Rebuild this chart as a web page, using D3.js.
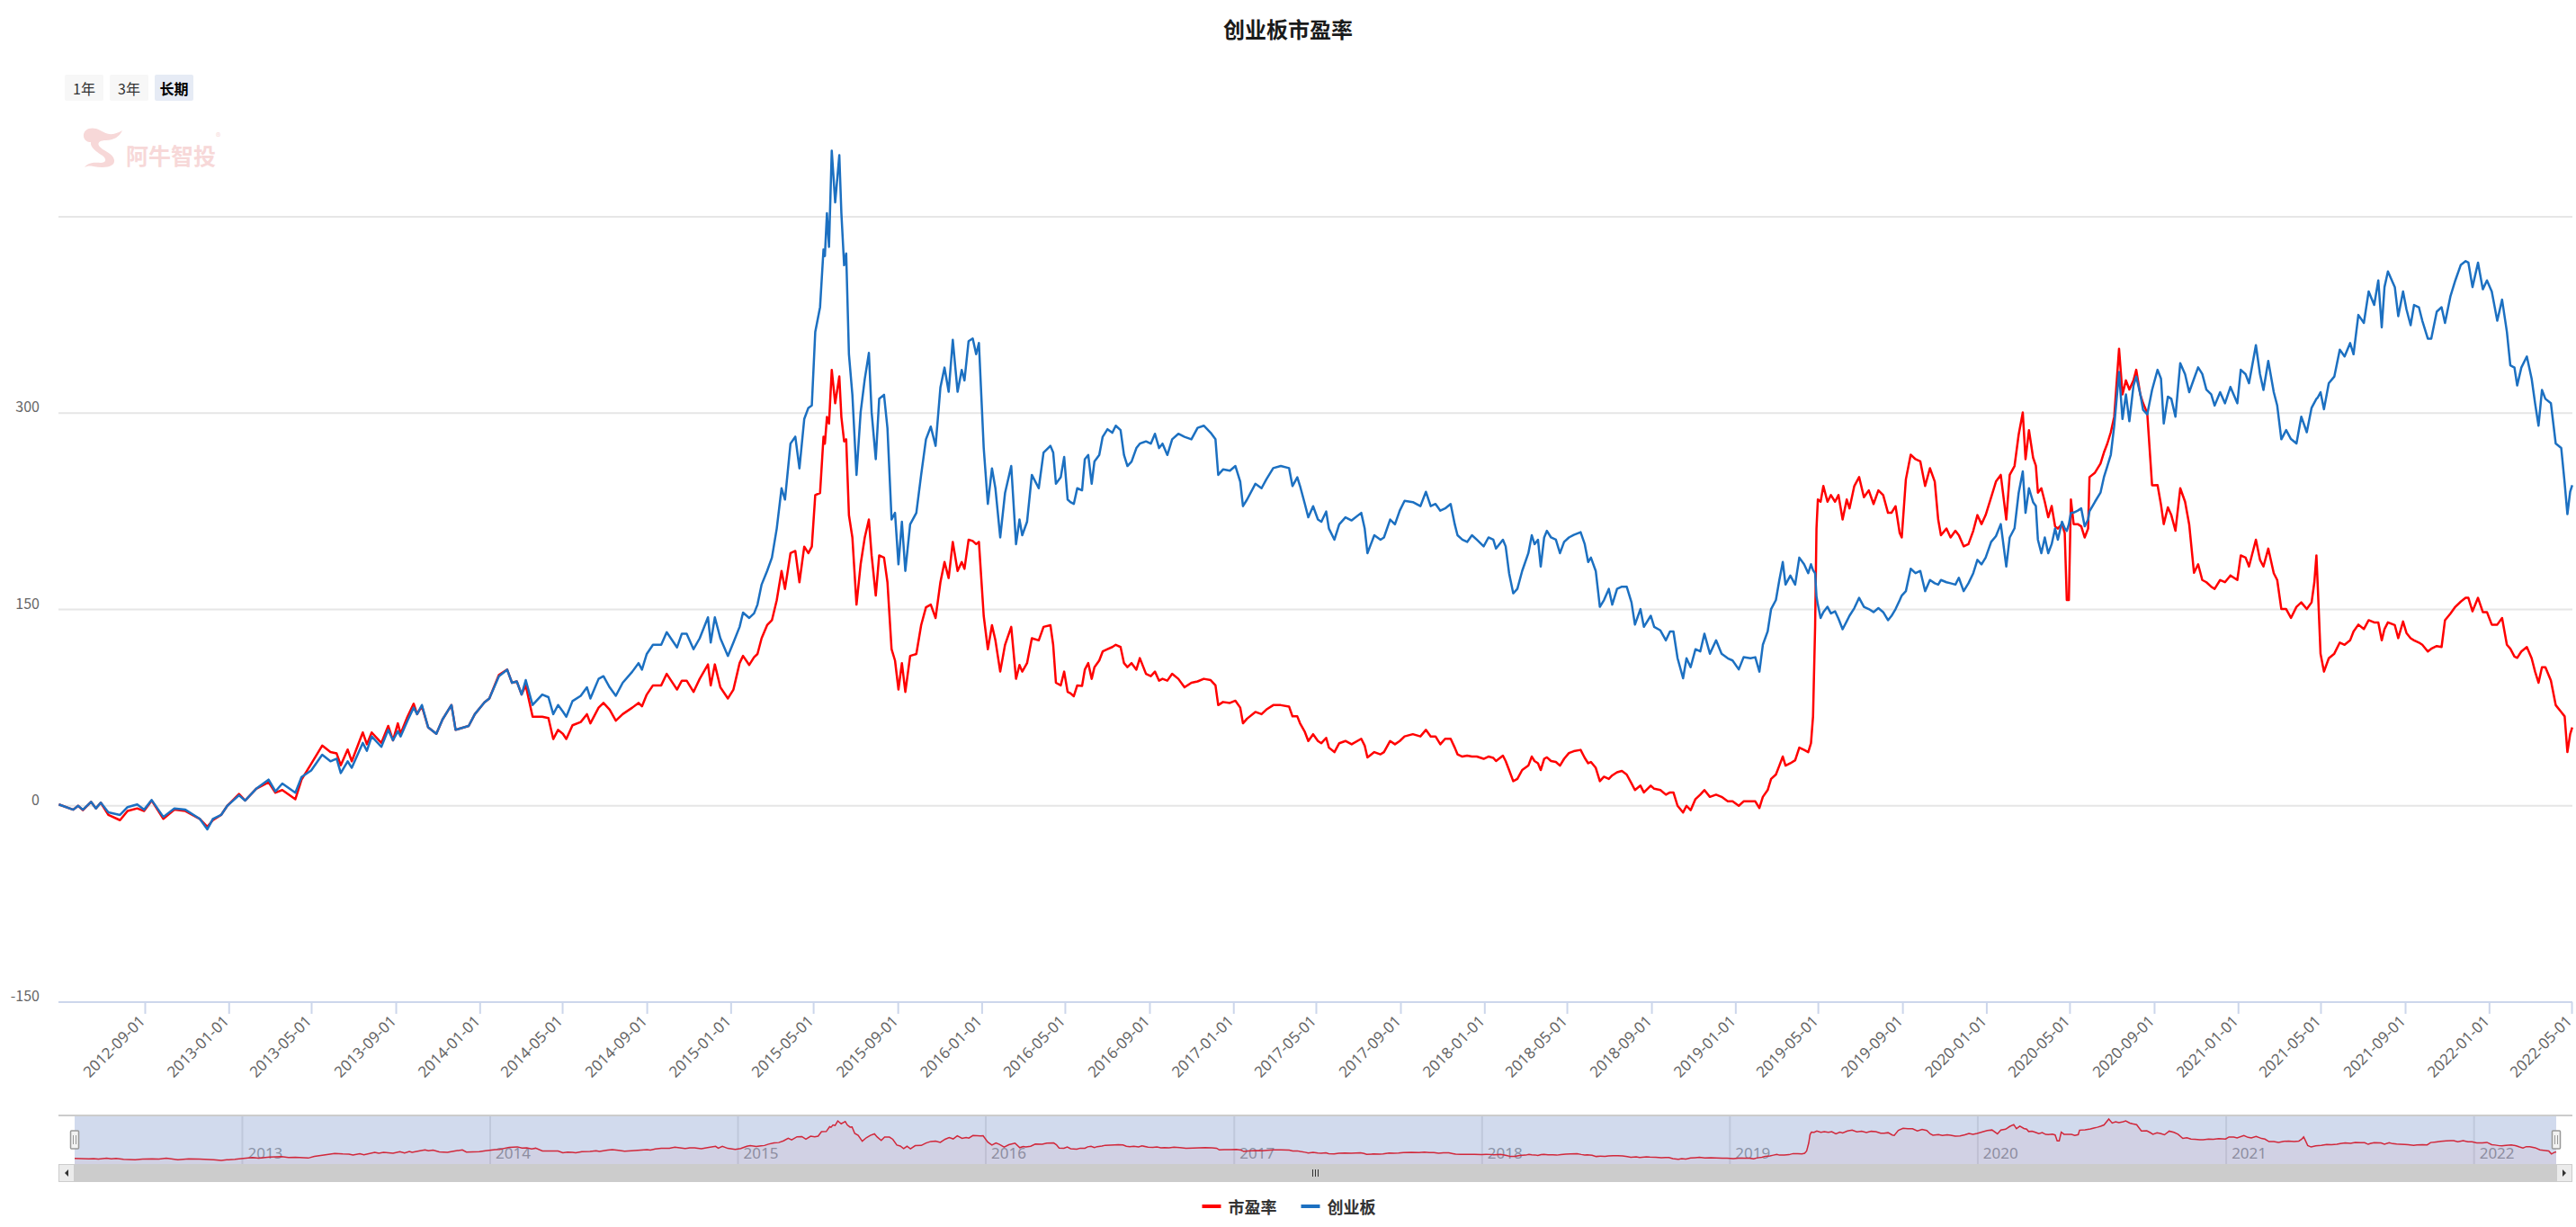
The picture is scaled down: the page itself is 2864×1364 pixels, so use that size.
<!DOCTYPE html>
<html><head><meta charset="utf-8">
<script src="https://cdn.jsdelivr.net/npm/d3@7"></script>
<style>
html,body{margin:0;padding:0;background:#fff;}
svg{display:block;}
text{font-family:"Noto Sans CJK SC","Noto Sans",sans-serif;}
</style></head><body>
<svg id="chart" width="2864" height="1364"></svg>
<script>
const chartTitle = "创业板市盈率";
const seriesNames = ["市盈率", "创业板"];
const seriesColors = ["#ff0000", "#1c70c1"];
const rangeButtons = ["1年", "3年", "长期"];
const yTicks = [-150, 0, 150, 300, 450];
const yTickLabels = ["-150", "0", "150", "300", ""];
const xTickLabels = ["2012-09-01","2013-01-01","2013-05-01","2013-09-01","2014-01-01","2014-05-01","2014-09-01","2015-01-01","2015-05-01","2015-09-01","2016-01-01","2016-05-01","2016-09-01","2017-01-01","2017-05-01","2017-09-01","2018-01-01","2018-05-01","2018-09-01","2019-01-01","2019-05-01","2019-09-01","2020-01-01","2020-05-01","2020-09-01","2021-01-01","2021-05-01","2021-09-01","2022-01-01","2022-05-01"];
const navYearLabels = ["2013","2014","2015","2016","2017","2018","2019","2020","2021","2022"];

const dates = [
// 2012
"2012-04-29","2012-05-20","2012-05-27","2012-06-03","2012-06-15","2012-06-22","2012-06-29","2012-07-10","2012-07-27","2012-08-07","2012-08-21","2012-08-31","2012-09-11","2012-09-28","2012-10-14","2012-10-30","2012-11-20","2012-12-01","2012-12-09","2012-12-21","2012-12-30",
// 2013
"2013-01-16","2013-01-25","2013-02-10","2013-02-28","2013-03-10","2013-03-20","2013-04-08","2013-04-17","2013-05-01","2013-05-17","2013-05-29","2013-06-07","2013-06-13","2013-06-23","2013-06-29","2013-07-15","2013-07-21","2013-07-28","2013-08-11","2013-08-21","2013-08-28","2013-09-04","2013-09-08","2013-09-18","2013-09-27","2013-10-02","2013-10-09","2013-10-18","2013-10-30","2013-11-08","2013-11-21","2013-11-27","2013-12-16","2013-12-25",
// 2014
"2014-01-08","2014-01-15","2014-01-29","2014-02-10","2014-02-17","2014-02-24","2014-03-03","2014-03-09","2014-03-19","2014-04-02","2014-04-11","2014-04-18","2014-04-25","2014-05-02","2014-05-07","2014-05-16","2014-05-28","2014-06-06","2014-06-11","2014-06-23","2014-06-30","2014-07-09","2014-07-18","2014-07-28","2014-08-11","2014-08-20","2014-08-25","2014-09-01","2014-09-10","2014-09-22","2014-09-30","2014-10-15","2014-10-22","2014-10-29","2014-11-08","2014-11-17","2014-11-29","2014-12-03","2014-12-09","2014-12-17","2014-12-28",
// 2015
"2015-01-05","2015-01-14","2015-01-19","2015-01-28","2015-02-04","2015-02-09","2015-02-15","2015-02-23","2015-03-02","2015-03-09","2015-03-16","2015-03-21","2015-03-29","2015-04-05","2015-04-11","2015-04-18","2015-04-24","2015-04-29","2015-05-04","2015-05-11","2015-05-16","2015-05-18","2015-05-21","2015-05-24","2015-05-28","2015-06-02","2015-06-08","2015-06-11","2015-06-15","2015-06-18","2015-06-22","2015-06-27","2015-07-03","2015-07-09","2015-07-15","2015-07-21","2015-07-25","2015-07-31","2015-08-05","2015-08-12","2015-08-17","2015-08-23","2015-08-28","2015-09-02","2015-09-07","2015-09-12","2015-09-19","2015-09-28","2015-10-05","2015-10-12","2015-10-19","2015-10-26","2015-11-02","2015-11-08","2015-11-14","2015-11-20","2015-11-27","2015-12-03","2015-12-07","2015-12-13","2015-12-19","2015-12-24","2015-12-28",
// 2016
"2016-01-04","2016-01-10","2016-01-16","2016-01-21","2016-01-28","2016-02-04","2016-02-13","2016-02-20","2016-02-25","2016-02-29","2016-03-07","2016-03-14","2016-03-24","2016-03-31","2016-04-10","2016-04-14","2016-04-18","2016-04-25","2016-04-30","2016-05-05","2016-05-09","2016-05-14","2016-05-19","2016-05-26","2016-05-30","2016-06-04","2016-06-09","2016-06-13","2016-06-20","2016-06-25","2016-07-02","2016-07-09","2016-07-14","2016-07-21","2016-07-26","2016-07-31","2016-08-06","2016-08-13","2016-08-18","2016-08-27","2016-09-03","2016-09-09","2016-09-15","2016-09-20","2016-09-27","2016-10-04","2016-10-13","2016-10-22","2016-11-01","2016-11-10","2016-11-19","2016-11-29","2016-12-06","2016-12-10","2016-12-17","2016-12-27",
// 2017
"2017-01-04","2017-01-11","2017-01-15","2017-01-21","2017-02-02","2017-02-11","2017-02-18","2017-02-28","2017-03-11","2017-03-23","2017-03-28","2017-04-04","2017-04-08","2017-04-15","2017-04-20","2017-04-27","2017-05-04","2017-05-09","2017-05-16","2017-05-20","2017-05-28","2017-06-04","2017-06-13","2017-06-22","2017-07-06","2017-07-11","2017-07-15","2017-07-25","2017-08-03","2017-08-08","2017-08-17","2017-08-24","2017-08-31","2017-09-07","2017-09-19","2017-09-30","2017-10-08","2017-10-15","2017-10-22","2017-10-29","2017-11-05","2017-11-13","2017-11-19","2017-11-23","2017-11-30","2017-12-07","2017-12-14","2017-12-21","2017-12-31",
// 2018
"2018-01-07","2018-01-14","2018-01-18","2018-01-28","2018-02-01","2018-02-06","2018-02-12","2018-02-18","2018-02-25","2018-03-06","2018-03-11","2018-03-15","2018-03-20","2018-03-24","2018-03-29","2018-04-02","2018-04-08","2018-04-15","2018-04-21","2018-04-27","2018-05-04","2018-05-11","2018-05-21","2018-05-27","2018-06-01","2018-06-05","2018-06-12","2018-06-18","2018-06-24","2018-07-01","2018-07-06","2018-07-13","2018-07-20","2018-07-27","2018-08-03","2018-08-08","2018-08-16","2018-08-21","2018-08-31","2018-09-05","2018-09-14","2018-09-22","2018-09-28","2018-10-03","2018-10-09","2018-10-17","2018-10-22","2018-10-28","2018-11-04","2018-11-11","2018-11-17","2018-11-25","2018-12-04","2018-12-12","2018-12-21","2018-12-28",
// 2019
"2019-01-06","2019-01-13","2019-01-23","2019-01-30","2019-02-05","2019-02-10","2019-02-17","2019-02-22","2019-03-01","2019-03-06","2019-03-11","2019-03-15","2019-03-22","2019-03-29","2019-04-04","2019-04-11","2019-04-17","2019-04-21","2019-04-24","2019-04-27","2019-04-29","2019-05-01","2019-05-05","2019-05-09","2019-05-15","2019-05-20","2019-05-26","2019-05-31","2019-06-06","2019-06-12","2019-06-16","2019-06-23","2019-06-30","2019-07-07","2019-07-14","2019-07-21","2019-07-28","2019-08-04","2019-08-11","2019-08-16","2019-08-22","2019-08-28","2019-08-31","2019-09-06","2019-09-13","2019-09-20","2019-09-27","2019-10-04","2019-10-11","2019-10-18","2019-10-23","2019-10-27","2019-11-04","2019-11-10","2019-11-17","2019-11-22","2019-11-29","2019-12-06","2019-12-13","2019-12-19","2019-12-25","2019-12-31",
// 2020
"2020-01-08","2020-01-15","2020-01-22","2020-01-30","2020-02-04","2020-02-11","2020-02-17","2020-02-23","2020-02-27","2020-03-03","2020-03-09","2020-03-13","2020-03-16","2020-03-21","2020-03-26","2020-03-31","2020-04-05","2020-04-10","2020-04-14","2020-04-20","2020-04-24","2020-04-27","2020-04-30","2020-05-03","2020-05-07","2020-05-13","2020-05-18","2020-05-23","2020-05-28","2020-05-30","2020-06-07","2020-06-15","2020-06-20","2020-06-25","2020-06-30","2020-07-05","2020-07-12","2020-07-17","2020-07-22","2020-07-27","2020-08-02","2020-08-06","2020-08-12","2020-08-16","2020-08-22","2020-08-29","2020-09-06","2020-09-11","2020-09-15","2020-09-21","2020-09-26","2020-10-02","2020-10-09","2020-10-16","2020-10-22","2020-10-29","2020-11-04","2020-11-10","2020-11-16","2020-11-23","2020-11-28","2020-12-06","2020-12-13","2020-12-21","2020-12-31",
// 2021
"2021-01-05","2021-01-12","2021-01-17","2021-01-27","2021-02-02","2021-02-07","2021-02-14","2021-02-22","2021-02-27","2021-03-05","2021-03-12","2021-03-19","2021-03-27","2021-04-03","2021-04-11","2021-04-18","2021-04-22","2021-04-25","2021-04-27","2021-05-01","2021-05-06","2021-05-13","2021-05-21","2021-05-29","2021-06-05","2021-06-13","2021-06-18","2021-06-25","2021-07-03","2021-07-10","2021-07-18","2021-07-24","2021-07-29","2021-08-02","2021-08-07","2021-08-17","2021-08-22","2021-08-29","2021-09-03","2021-09-09","2021-09-14","2021-09-21","2021-09-26","2021-10-04","2021-10-09","2021-10-17","2021-10-24","2021-10-29","2021-11-06","2021-11-13","2021-11-21","2021-11-28","2021-12-02","2021-12-08","2021-12-16","2021-12-23","2021-12-29",
// 2022
"2022-01-05","2022-01-13","2022-01-20","2022-01-27","2022-02-01","2022-02-07","2022-02-11","2022-02-17","2022-02-25","2022-03-04","2022-03-09","2022-03-14","2022-03-19","2022-03-24","2022-04-01","2022-04-08","2022-04-16","2022-04-21","2022-04-25","2022-04-29","2022-05-02"
];

// 市盈率 (red)
const peRatio = [
1,-3,0,-3.4,3,-2,2.4,-7,-11,-4,-2,-4,4,-10,-3,-4,-10,-16,-11,-7,0,
9,4,13,18,10,12,5,20,32,46,41,40,31,43,34,56,47,56,48,61,50,63,55,68,78,70,76,60,55,66,77,58,61,70,
79,82,100,104,94,95,85,92,68,68,67,51,58,55,51,61.5,64,70,63,75,78.6,73.5,65,70,75,78.6,76,85,92,92,100.8,88.8,95.6,95.6,87,97,108,92,108,90.5,82,
88.8,109,114.5,107.6,113.5,116,128,138,141.8,157,179.4,165.7,193,194.7,170.8,198,193,198,237.4,239,281.9,276.7,297,292,333,307.5,328,297,278.4,280,222,205,153.7,184.5,205,218.7,191.3,160.6,191.3,189.6,170.8,119.6,111,88.8,109,87,114.5,116,138,151.6,153.7,143.5,170.8,186.2,174,201.6,179.4,186.2,181,203.3,202.3,199.9,201.6,
145,119.6,138,126.4,102.5,123,136.7,97,107.6,102.5,109,128,126.4,136.7,138,123,94,92,102.5,87,86,83.7,92,91.6,104,109,97,105.9,111,117.9,119.6,121.3,123,121.3,109,105.9,109,104,112.8,100.8,99,102.5,95.6,97,95.6,100.8,97,90.5,94,95,97,96,92,76.9,79.3,78.6,
80.3,75,63,66.6,71.7,70,73.5,76.9,76.9,75.8,68.3,68.3,63,56.4,49.5,54.7,49.5,47.8,51.9,44.4,41,47.8,49.5,47,51.2,46,37,41,39.3,41,49.5,47,49.5,53,54.7,53,58,53,53,47,51.2,51.2,44.4,39.3,37.6,38.3,37.6,37.6,35.9,
37.6,36.6,34.2,38.3,34.2,27.3,18.8,20.5,27.3,30.7,37.6,34.2,32.5,27.3,35.9,37,34.2,33.5,30.7,35.9,40.3,41.7,42.7,36.6,32.5,33.5,29,18.8,22.2,20.5,23.2,25.6,26.6,23.9,17.1,12,15.4,10.2,15.4,13,12,8.5,10.2,10.2,0,-5.1,0,-3.4,5.1,8.5,12,6.8,8.5,6.8,3.4,3.4,
0,3.4,3.4,3.4,-1.7,6.8,12,20.5,23.9,30.7,37.6,30.7,32.5,34.8,44.4,42.7,41,47.8,68.3,136.7,211.8,234,232.3,244.3,232.3,237.4,232.3,237.4,218.7,234,227.2,244.3,251.1,235.7,241,230.6,241,237.4,223.8,223.8,228.9,208.4,205,249.4,268.2,264.8,263.1,244.3,257.9,247.7,218.7,206.7,211.8,205,210.1,206.7,198.2,199.9,210.1,222.1,215.2,222.1,
235.7,247.7,252.8,218.7,252.8,259.6,283.5,300.5,264.8,287,266,259.9,239.2,242.6,232.3,220.4,229,213.5,211.8,215.2,208.4,157.2,157.2,234,215.2,215.2,213.5,205,211.8,251.1,254.5,261.4,269.9,276.8,285.4,297.3,349.2,314.3,325,318,325,333.1,314,307.5,300,244.9,245,230,215.2,228,222.1,210.1,242.6,232.3,215,178,184.5,172.5,170.8,167.4,165.7,172.5,170.8,176,172.5,
191.3,189.6,182.8,203.3,187.9,182.8,196.5,177.7,172.5,150.3,150.3,143.5,152,155.4,150.3,155.4,170.8,191.3,167.4,116.2,102.5,112.7,116.2,124.7,123,126.4,133.2,138.4,135,141.8,140.1,140,126.4,135,140.1,138,128.1,140.8,132,128,126.4,124.7,123,117.9,120,122,121.3,141.8,146.9,152,156,158.9,158.9,148.6,158.9,148,148,
138.4,138.4,143.5,123,120,114,113,117.9,121.3,112.7,102.5,94,105.9,105.9,95.7,76.9,71.7,68.3,41,54.7,59.8
];

// 创业板 (blue)
const gemIndex = [
1,-3,0,-3,3,-2,2.4,-5,-7,-1,1,-3,4.4,-8.5,-2,-3,-10,-18,-10,-7,0,
8,4,13,20,11,17,10,22,27,39,34,36,25,34,29,48,42,53,45,58,50,57,53,65,75,70,77,60,55,66,77,58,61,70,
79,82,99,104,94,95,85,96,77,85,83,70,77,72,68,80,84,90.5,82,97,99,90.5,84,94,102.5,109,104,116,123,123,132.6,121,131.5,131.5,119.6,128,144,124.7,144,128,114.5,
124.7,136.7,147.6,143.5,147,153.7,169,179.4,189.6,211.8,242.6,234,276.7,282,257.8,295.5,304,305.8,362,381,425,420,452.7,427,500.5,461,497,452.7,413,422,345,314,252.8,300.6,326,346,300.6,264.8,311,314,288.6,218.7,223.8,184.5,217,179.4,215,223.8,252.8,280,289.7,275,319.6,334.8,316.3,356,316.3,333,325,355,357,345,353.6,
273.3,230.6,257.8,242.6,205,239,259.6,199.9,218.7,206.7,217,252.8,242.6,269.9,275,270,246,251,266.5,234,232,230.6,242.6,241,264.8,268,246,263,268,281.9,287.7,285,290.4,287,268,259.6,263,273.3,276.7,278.4,276.7,284.2,273.3,276.7,268,280,284.2,281.9,280,288.7,290.4,285,280,252.8,257,256,
259.6,247.7,228.9,234,246,242.6,249.4,258,259.6,258,244.3,251,244.3,230.6,220.4,228.9,218.7,217,224.8,211.8,203.3,215,220.4,218,223.8,211.8,193,206.7,203.3,205,218.7,215,225.5,233,232,228.9,239.9,228.9,230.6,225.5,227.2,230.6,215,206.7,203.3,201.6,206.7,203.3,198.2,
205,203.3,196.5,203.3,198.2,177.7,162.3,165.7,179.4,193,206.7,199.9,203.3,182.8,205,210.1,205,203.3,193,201.6,205,207,209,199.9,186.2,189.6,179.4,152,157.2,165.7,153.7,165.7,167.4,167.4,155.4,138.4,150.3,136.7,145.2,136.7,134,126.4,133.2,133.2,112.7,97.4,112.7,105.9,119.6,117.9,131.5,116.2,126.4,116.2,112.7,111,
104.2,113.5,112.7,113.5,102.5,123,133.2,150.3,157.2,172.5,186.2,169,175.9,169,189.6,184.5,177.7,184.5,180,177.7,160,153.7,143.5,148,152,147,148.6,143,134.9,141,145.2,151,158.9,152,150.3,148,151,148,141.8,145,150.3,157,160.6,164,181.1,177.7,179.4,164,172.5,170,169,172.5,170.8,170,169,174.2,164,170,177.7,187.9,184.5,189.6,
201.6,206,215.2,182.8,205,212,239,255.5,223.8,242.6,232,229,203.3,193,205,193,199.9,211.8,203.3,217,212,210,215,223.8,224,225.5,227.2,213.5,218.7,225,232.3,239.2,251.1,259.6,268.2,290.4,331.4,295.5,314.3,293.8,321.1,327.9,314.3,302.4,299,317.7,333.1,326.3,292.1,312.6,310.9,297.3,338.2,329.7,316,326.3,335,330,318,314.3,305.8,316,307.5,320,307.5,
333.1,329.7,322.8,351.9,329.7,317.7,339.9,316,305.8,280,287,280.2,276.8,297.3,285.4,304.1,308,310.9,312,316,303,322.8,327.9,348.5,343.3,353.5,345,375,368.9,393,382.6,401.4,365.5,396.3,408.3,396.3,374.1,392.9,379.2,367.2,382.6,380.9,370.6,356.9,356.9,377.5,380.9,368.9,389.5,401.4,413.3,416.1,415,396.3,415,394.6,401.4,
392.9,370.6,386.7,362.1,336.5,334.8,321.1,334.8,343.3,326.3,307.5,290.4,317.7,310.9,307.5,276.8,273.4,246.7,222.8,239.9,245
];

// ---------- drawing ----------
const parseDate = d3.timeParse("%Y-%m-%d");
const svg = d3.select("#chart");
const plotL = 65, plotR = 2860, axisY = 1114;

const rows = dates.map((d, i) => ({ date: parseDate(d), pe: peRatio[i], gem: gemIndex[i] }));
const x = d3.scaleTime().domain(d3.extent(rows, r => r.date)).range([65.4, 2859.8]);
const y = d3.scaleLinear().domain([-150, 450]).range([1114, 241]);

// title
svg.append("text").attr("x", 1432).attr("y", 31)
  .attr("text-anchor", "middle").attr("dominant-baseline", "central")
  .style("font-size", "24px").style("font-weight", "bold").attr("fill", "#1a1a1a")
  .text(chartTitle);

// range buttons
const btn = svg.append("g");
rangeButtons.forEach((b, i) => {
  const sel = i === rangeButtons.length - 1;
  const bx = 72 + i * 50;
  btn.append("rect").attr("x", bx).attr("y", 83).attr("width", 43).attr("height", 29)
    .attr("rx", 2).attr("fill", sel ? "#e6ebf5" : "#f7f7f7");
  btn.append("text").attr("x", bx + 21.5).attr("y", 97.5)
    .attr("text-anchor", "middle").attr("dominant-baseline", "central")
    .style("font-size", "16px").style("font-weight", sel ? "bold" : "normal")
    .attr("fill", sel ? "#000" : "#333").text(b);
});

// watermark logo
const logo = svg.append("g").attr("fill", "#f7d8d8");
logo.append("path").attr("d",
  "M93,152 C92,144 100,141 107,143 C113,145 118,150 126,149 C131,148 134,146 136,145 C133,152 126,156 118,156 C112,156 108,158 110,162 C114,168 126,170 127,178 C128,186 116,187 104,185 C99,184 96,185 94,186 C97,181 104,180 112,181 C118,181 119,177 114,173 C106,168 100,163 101,158 C97,158 94,156 93,152 Z");
logo.append("text").attr("x", 140).attr("y", 183)
  .style("font-size", "25px").style("font-weight", "bold").text("阿牛智投");
logo.append("text").attr("x", 240).attr("y", 156).style("font-size", "11px").text("®");

// gridlines
const gridTicks = yTicks.filter(t => t !== yTicks[0]);
svg.append("g").selectAll("line").data(gridTicks).join("line")
  .attr("x1", plotL).attr("x2", plotR)
  .attr("y1", d => y(d)).attr("y2", d => y(d))
  .attr("stroke", "#e6e6e6").attr("stroke-width", 2);

// y labels
svg.append("g").selectAll("text").data(yTicks).join("text")
  .attr("x", 44).attr("y", d => y(d) - 8)
  .attr("text-anchor", "end").attr("dominant-baseline", "central")
  .style("font-size", "16px").attr("fill", "#666")
  .text((d, i) => yTickLabels[i]);

// x axis
const tickDates = xTickLabels.map(parseDate);
const xAxis = d3.axisBottom(x).tickValues(tickDates)
  .tickFormat((d, i) => xTickLabels[i]).tickSize(13).tickSizeOuter(0);
const gx = svg.append("g").attr("transform", `translate(0,${axisY})`).call(xAxis);
gx.select(".domain").attr("stroke", "#ccd6eb").attr("stroke-width", 2)
  .attr("d", `M${plotL},0H${plotR}`);
gx.selectAll(".tick line").attr("stroke", "#ccd6eb").attr("stroke-width", 2);
gx.selectAll(".tick text")
  .attr("y", null).attr("dy", null)
  .attr("transform", "translate(1,22) rotate(-45)")
  .style("text-anchor", "end").style("font-size", "17px")
  .style("font-family", "'Noto Sans', sans-serif").attr("fill", "#666");

// series lines
const linePe = d3.line().x(d => x(d.date)).y(d => y(d.pe));
const lineGem = d3.line().x(d => x(d.date)).y(d => y(d.gem));
svg.append("path").datum(rows).attr("d", linePe)
  .attr("fill", "none").attr("stroke", seriesColors[0]).attr("stroke-width", 2.5)
  .attr("stroke-linejoin", "round");
svg.append("path").datum(rows).attr("d", lineGem)
  .attr("fill", "none").attr("stroke", seriesColors[1]).attr("stroke-width", 2.5)
  .attr("stroke-linejoin", "round");

// ---------- navigator ----------
const navL = 83, navR = 2842, navTop = 1240, navBot = 1294;
const nx = d3.scaleTime().domain(x.domain()).range([navL, navR]);
const ny = d3.scaleLinear().domain(d3.extent(peRatio)).range([1290, 1244]);
const nav = svg.append("g");
const yearDates = navYearLabels.map(yv => parseDate(yv + "-01-01"));
nav.selectAll("line.yr").data(yearDates).join("line")
  .attr("x1", d => nx(d)).attr("x2", d => nx(d))
  .attr("y1", navTop).attr("y2", navBot)
  .attr("stroke", "#e6e6e6").attr("stroke-width", 2);
nav.selectAll("text.yr").data(yearDates).join("text")
  .attr("x", d => nx(d) + 6).attr("y", 1288)
  .style("font-size", "17px").style("font-family", "'Noto Sans', sans-serif")
  .attr("fill", "#999").text((d, i) => navYearLabels[i]);
const navArea = d3.area().x(d => nx(d.date)).y0(navBot).y1(d => ny(d.pe));
const navLine = d3.line().x(d => nx(d.date)).y(d => ny(d.pe));
nav.append("path").datum(rows).attr("d", navArea).attr("fill", seriesColors[0]).attr("fill-opacity", 0.05);
nav.append("path").datum(rows).attr("d", navLine).attr("fill", "none")
  .attr("stroke", seriesColors[0]).attr("stroke-width", 1.5);
// mask (selected range = full)
nav.append("rect").attr("x", navL).attr("y", navTop).attr("width", navR - navL).attr("height", navBot - navTop)
  .attr("fill", "rgba(102,133,194,0.3)");
// outline
nav.append("path").attr("d", `M${plotL},${navTop}H${plotR}`).attr("stroke", "#cccccc").attr("stroke-width", 2);

// scrollbar
const sb = svg.append("g");
sb.append("rect").attr("x", plotL).attr("y", navBot).attr("width", plotR - plotL).attr("height", 20).attr("fill", "#f2f2f2");
sb.append("rect").attr("x", navL).attr("y", navBot).attr("width", navR - navL).attr("height", 20).attr("fill", "#cccccc");
[[plotL, -1], [navR, 1]].forEach(([bx, dir]) => {
  sb.append("rect").attr("x", bx + 0.5).attr("y", navBot + 0.5).attr("width", 17).attr("height", 19)
    .attr("fill", "#ebebeb").attr("stroke", "#cccccc");
  const cx = bx + 9, cy = navBot + 10;
  sb.append("path").attr("d", dir < 0
      ? `M${cx + 2},${cy - 4}L${cx - 2},${cy}L${cx + 2},${cy + 4}Z`
      : `M${cx - 2},${cy - 4}L${cx + 2},${cy}L${cx - 2},${cy + 4}Z`)
    .attr("fill", "#333");
});
const midX = (navL + navR) / 2;
[-3, 0, 3].forEach(o => sb.append("line").attr("x1", midX + o).attr("x2", midX + o)
  .attr("y1", navBot + 6).attr("y2", navBot + 14).attr("stroke", "#333").attr("stroke-width", 1));

// handles
[navL, navR].forEach(hx => {
  nav.append("rect").attr("x", hx - 4.5).attr("y", 1257).attr("width", 9).attr("height", 20).attr("rx", 1)
    .attr("fill", "#f2f2f2").attr("stroke", "#999").attr("stroke-width", 1.5);
  [-1.5, 1.5].forEach(o => nav.append("line").attr("x1", hx + o).attr("x2", hx + o)
    .attr("y1", 1262).attr("y2", 1272).attr("stroke", "#999").attr("stroke-width", 1));
});

// ---------- legend ----------
const legend = svg.append("g");
let lx = 0;
seriesNames.forEach((name, i) => {
  const g = legend.append("g").attr("transform", `translate(${lx},0)`);
  g.append("line").attr("x1", 0).attr("x2", 21).attr("y1", 0).attr("y2", 0)
    .attr("stroke", seriesColors[i]).attr("stroke-width", 4);
  const t = g.append("text").attr("x", 29).attr("y", 0).attr("dominant-baseline", "central")
    .style("font-size", "18px").style("font-weight", "bold").attr("fill", "#333").text(name);
  lx += 29 + t.node().getComputedTextLength() + 27;
});
const legW = lx - 27;
legend.attr("transform", `translate(${1433 - legW / 2},1341)`);
</script>
</body></html>
